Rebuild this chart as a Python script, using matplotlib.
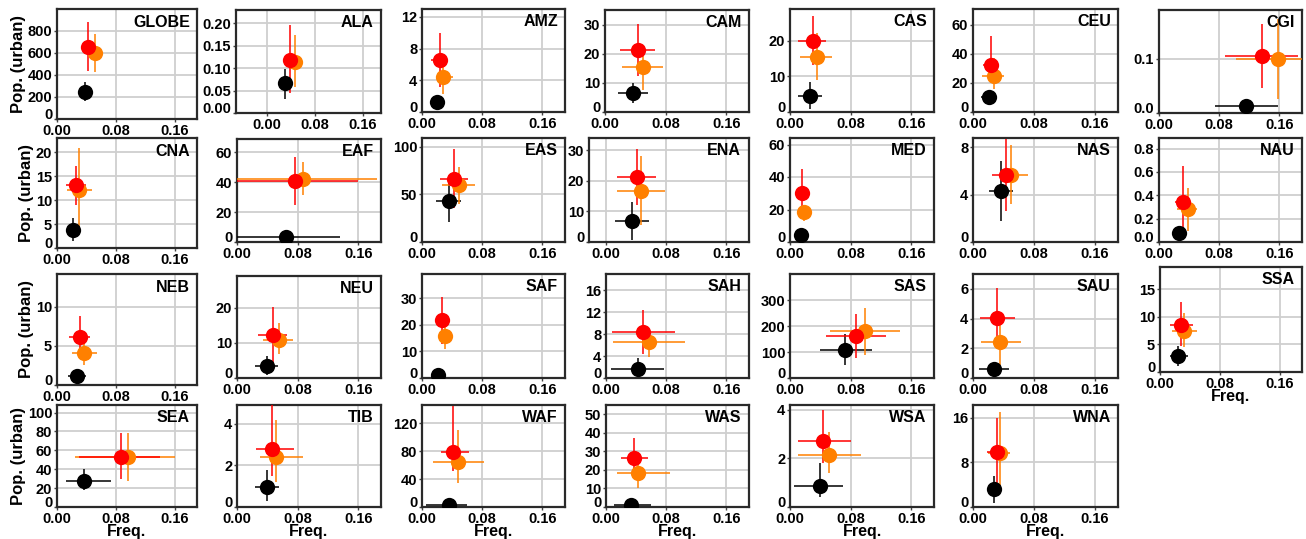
import matplotlib
matplotlib.use("Agg")
import matplotlib.pyplot as plt
import numpy as np

plt.rcParams["font.family"] = ["Liberation Sans", "DejaVu Sans"]
plt.rcParams["font.weight"] = "bold"

W, H = 1306, 539

regions = ["GLOBE", "ALA", "AMZ", "CAM", "CAS", "CEU", "CGI",
           "CNA", "EAF", "EAS", "ENA", "MED", "NAS", "NAU",
           "NEB", "NEU", "SAF", "SAH", "SAS", "SAU", "SSA",
           "SEA", "TIB", "WAF", "WAS", "WSA", "WNA"]

# per region: (freq, freq_lo, freq_hi, pop, pop_lo, pop_hi)
black = [
    (0.038, 0.035, 0.041, 248, 166, 333),
    (0.030, 0.026, 0.034, 0.066, 0.032, 0.099),
    (0.020, 0.017, 0.023, 1.2, 0.9, 1.5),
    (0.037, 0.017, 0.057, 6.45, 3.06, 9.85),
    (0.026, 0.010, 0.042, 4.6, 0.93, 8.45),
    (0.021, 0.011, 0.031, 10.1, 6.5, 14.0),
    (0.116, 0.075, 0.158, 0.0135, 0.003, 0.026),
    (0.022, 0.013, 0.030, 3.8, 1.4, 6.2),
    (0.064, -0.03, 0.136, 3.4, 3.0, 3.8),
    (0.0355, 0.019, 0.052, 42.7, 21.2, 64.6),
    (0.035, 0.012, 0.058, 6.9, 0.56, 13.0),
    (0.014, 0.012, 0.016, 4.2, 3.5, 4.9),
    (0.0365, 0.021, 0.053, 4.28, 1.8, 6.85),
    (0.026, 0.023, 0.029, 0.075, 0.06, 0.09),
    (0.0265, 0.015, 0.039, 1.2, 1.0, 1.4),
    (0.039, 0.024, 0.054, 3.5, 0.9, 6.2),
    (0.021, 0.018, 0.024, 1.2, 1.0, 1.4),
    (0.042, 0.0067, 0.077, 1.7, 0.3, 3.7),
    (0.073, 0.040, 0.108, 109, 49, 170),
    (0.0275, 0.008, 0.047, 0.62, 0.5, 0.75),
    (0.0247, 0.0135, 0.037, 2.93, 1.1, 4.76),
    (0.037, 0.012, 0.073, 28, 18, 40),
    (0.039, 0.024, 0.055, 0.96, 0.3, 1.8),
    (0.036, 0.005, 0.060, 3, 2, 4),
    (0.033, 0.010, 0.060, 1.1, 0.8, 1.4),
    (0.039, 0.005, 0.070, 0.87, 0.4, 1.8),
    (0.027, 0.018, 0.036, 3.2, 0.8, 5.5),
]

orange = [
    (0.051, 0.036, 0.062, 597, 425, 773),
    (0.047, 0.040, 0.057, 0.114, 0.057, 0.175),
    (0.028, 0.019, 0.041, 4.46, 2.26, 6.55),
    (0.050, 0.023, 0.077, 15.3, 7.6, 22.0),
    (0.035, 0.013, 0.056, 15.5, 8.9, 22.3),
    (0.028, 0.012, 0.041, 25.0, 16.0, 37.0),
    (0.158, 0.102, 0.220, 0.100, 0.025, 0.173),
    (0.030, 0.013, 0.047, 12.2, 3.3, 20.9),
    (0.087, -0.03, 0.185, 42.5, 31.4, 53.7),
    (0.0488, 0.026, 0.070, 59.3, 40.0, 78.1),
    (0.047, 0.0155, 0.079, 16.8, 5.5, 28.2),
    (0.0187, 0.016, 0.022, 18.2, 12.8, 23.0),
    (0.050, 0.0365, 0.072, 5.7, 3.2, 8.2),
    (0.038, 0.024, 0.051, 0.28, 0.095, 0.46),
    (0.037, 0.0197, 0.054, 4.07, 2.5, 5.7),
    (0.055, 0.034, 0.074, 10.9, 6.9, 15.7),
    (0.030, 0.024, 0.036, 15.9, 11.0, 19.4),
    (0.057, 0.009, 0.105, 6.5, 3.85, 8.9),
    (0.099, 0.053, 0.145, 180, 90, 270),
    (0.035, 0.011, 0.063, 2.44, 0.9, 3.8),
    (0.032, 0.016, 0.050, 7.5, 4.6, 10.6),
    (0.097, 0.025, 0.160, 53, 28, 78),
    (0.052, 0.030, 0.087, 2.4, 1.2, 4.2),
    (0.048, 0.015, 0.083, 64, 35, 110),
    (0.043, 0.015, 0.085, 18.5, 10, 25),
    (0.051, 0.010, 0.094, 2.15, 1.4, 3.1),
    (0.035, 0.020, 0.048, 9.7, 3.0, 17.0),
]

red = [
    (0.042, 0.033, 0.051, 657, 436, 882),
    (0.038, 0.034, 0.043, 0.119, 0.044, 0.196),
    (0.024, 0.012, 0.035, 6.56, 3.1, 10.0),
    (0.043, 0.020, 0.066, 21.4, 12.3, 30.2),
    (0.030, 0.011, 0.048, 20.0, 13.1, 26.9),
    (0.024, 0.013, 0.033, 32.6, 22.0, 52.6),
    (0.137, 0.088, 0.185, 0.106, 0.047, 0.165),
    (0.026, 0.0116, 0.040, 13.1, 9.0, 17.2),
    (0.076, -0.03, 0.160, 40.7, 24.6, 57.1),
    (0.042, 0.0235, 0.061, 66.4, 35.3, 97.5),
    (0.041, 0.0147, 0.067, 21.2, 12.2, 30.3),
    (0.0164, 0.014, 0.019, 30.0, 15.7, 44.7),
    (0.043, 0.025, 0.059, 5.7, 2.66, 8.7),
    (0.032, 0.021, 0.042, 0.34, 0.05, 0.65),
    (0.031, 0.016, 0.045, 6.2, 3.55, 8.8),
    (0.047, 0.028, 0.066, 12.1, 3.8, 20.2),
    (0.026, 0.022, 0.030, 21.6, 12.7, 30.4),
    (0.049, 0.0076, 0.092, 8.4, 4.3, 12.5),
    (0.087, 0.047, 0.127, 163, 77, 247),
    (0.032, 0.009, 0.055, 4.04, 2.04, 6.04),
    (0.028, 0.0135, 0.044, 8.55, 4.76, 12.7),
    (0.087, 0.030, 0.140, 53, 30, 78),
    (0.046, 0.025, 0.075, 2.8, 1.5, 5.2),
    (0.041, 0.025, 0.062, 79, 52, 145),
    (0.037, 0.020, 0.056, 26.5, 17, 37),
    (0.044, 0.010, 0.080, 2.7, 1.8, 4.0),
    (0.031, 0.018, 0.044, 9.8, 2.0, 16.0),
]

# y ticks per region (max tick, step, decimals) and top of y range
ytick_max = [800, 0.20, 12, 30, 20, 60, 0.1, 20, 60, 100, 30, 60, 8, 0.8,
             10, 20, 30, 16, 300, 6, 15, 100, 4, 120, 50, 4, 16]
ytick_step = [200, 0.05, 4, 10, 10, 20, 0.1, 5, 20, 50, 10, 20, 4, 0.2,
              5, 10, 10, 4, 100, 2, 5, 20, 2, 40, 10, 2, 8]
ytick_dec = [0, 2, 0, 0, 0, 0, 1, 0, 0, 0, 0, 0, 0, 1,
             0, 0, 0, 0, 0, 0, 0, 0, 0, 0, 0, 0, 0]
ytop = [1000, 0.23, 13, 35, 29, 71, 0.19, 23, 69, 109, 34, 64, 8.8, 0.89,
        14.2, 29, 39, 19, 402, 7, 19, 108, 4.9, 146, 55, 4.2, 18.3]
xleft = [0, -0.052, 0, 0, 0, 0, 0, 0, 0, 0, -0.022, 0, 0, 0,
         0, 0, 0, 0, 0, 0, 0, 0, 0, 0, 0, 0, 0]

# panel boxes in pixels: left, top, right, bottom
boxes = [
    (57, 9, 197, 119), (236, 10, 381, 113), (422, 9, 565, 112), (605, 10, 749, 112),
    (790, 9, 934, 112), (973, 9, 1118, 112), (1159, 10, 1302, 113),
    (57, 138, 197, 248), (237, 139, 381, 242), (422, 138, 565, 242), (589, 138, 749, 242),
    (790, 138, 934, 242), (973, 138, 1118, 242), (1159, 138, 1302, 242),
    (57, 274, 197, 385), (237, 276, 381, 378), (422, 274, 565, 378), (606, 274, 749, 378),
    (790, 274, 934, 378), (973, 274, 1118, 378), (1160, 267, 1302, 372),
    (57, 405, 197, 507), (237, 405, 381, 507), (422, 405, 565, 507), (606, 405, 749, 507),
    (790, 405, 934, 507), (973, 405, 1118, 507),
]

ylabel_panels = ["GLOBE", "CNA", "NEB", "SEA"]
xlabel_panels = ["SSA", "SEA", "TIB", "WAF", "WAS", "WSA", "WNA"]

series = [(black, "black"), (orange, "#FF8000"), (red, "#FF0000")]

fig = plt.figure(figsize=(W / 100, H / 100), dpi=100)

for i, name in enumerate(regions):
    l, t, r, b = boxes[i]
    ax = fig.add_axes([l / W, 1 - b / H, (r - l) / W, (b - t) / H])
    for data, col in series:
        x, xlo, xhi, y, ylo, yhi = data[i]
        ax.errorbar([x], [y], xerr=[[x - xlo], [xhi - x]], yerr=[[y - ylo], [yhi - y]],
                    fmt="o", color=col, ecolor=col, markersize=11, elinewidth=1.1,
                    capsize=1.5, capthick=1.0, markeredgewidth=0, zorder=3)

    ax.set_xlim(xleft[i], 0.19)
    ax.set_ylim(0, ytop[i])
    ax.set_xticks([0.0, 0.08, 0.16])
    ax.set_xticklabels(["0.00", "0.08", "0.16"])
    yt = np.arange(0, ytick_max[i] + ytick_step[i] * 0.5, ytick_step[i])
    ax.set_yticks(yt)
    ax.set_yticklabels([f"{v:.{ytick_dec[i]}f}" for v in yt])

    ax.grid(True, color="#cfcfcf", linewidth=1.3, zorder=0)
    ax.set_axisbelow(True)
    for s in ax.spines.values():
        s.set_color("#2a2a2a")
        s.set_linewidth(1.6)
    ax.tick_params(axis="both", length=2.5, width=1, color="#444444", pad=1,
                   labelsize=10.5, labelcolor="black")
    for lab in ax.get_xticklabels() + ax.get_yticklabels():
        lab.set_fontweight("bold")
    # the zero label rests on the corner, as in the original
    ax.get_yticklabels()[0].set_verticalalignment("baseline")

    ax.text(0.95, 0.88, name, transform=ax.transAxes, ha="right", va="center",
            fontsize=11.5, fontweight="bold", zorder=5)

    if name in ylabel_panels:
        ax.set_ylabel("Pop. (urban)", fontsize=12, fontweight="bold", labelpad=1)
    if name in xlabel_panels:
        ax.set_xlabel("Freq.", fontsize=11.5, fontweight="bold", labelpad=-1)

fig.savefig("out.png", dpi=100)
